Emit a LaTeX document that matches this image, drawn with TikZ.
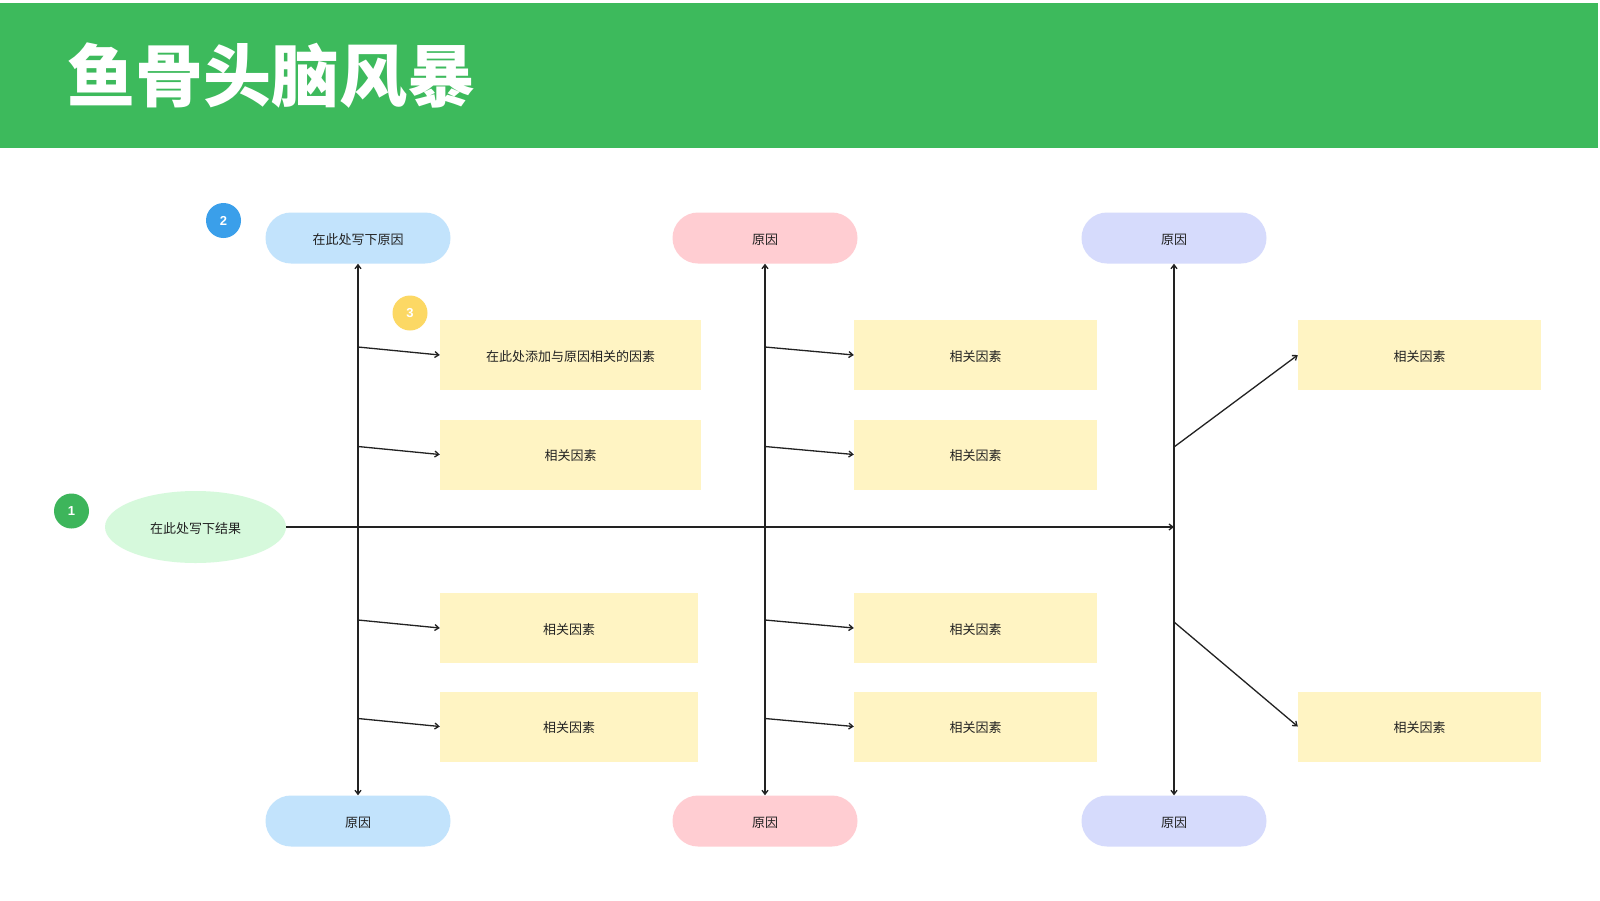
\documentclass[tikz,border=0pt]{standalone}
\usepackage{fontspec}
\setmainfont{Liberation Sans}
\newfontfamily\cjk{Noto Sans CJK SC}
\usetikzlibrary{arrows.meta,shapes.geometric}
\definecolor{hdrgreen}{HTML}{3DBA5C}
\definecolor{blueC}{HTML}{C2E3FC}
\definecolor{pinkC}{HTML}{FFCDD2}
\definecolor{lavC}{HTML}{D6DBFC}
\definecolor{yelBox}{HTML}{FFF4C3}
\definecolor{effC}{HTML}{D6F9DC}
\definecolor{badgeG}{HTML}{3DB55B}
\definecolor{badgeB}{HTML}{3A9FEA}
\definecolor{badgeY}{HTML}{FCD864}
\definecolor{txt}{HTML}{222222}
\begin{document}
\begin{tikzpicture}[x=1pt,y=-1pt,
  lbl/.style={font=\cjk\fontsize{13pt}{15pt}\selectfont, text=txt, text height=12.5pt, text depth=0pt},
  causebox/.style={lbl, rectangle, rounded corners=25.5pt, minimum width=185pt, minimum height=51pt, inner sep=0pt},
  factorbox/.style={lbl, rectangle, fill=yelBox, minimum height=70pt, inner sep=0pt},
  badge/.style={circle, minimum size=35pt, inner sep=0pt, text=white, font=\bfseries\fontsize{13pt}{15pt}\selectfont},
  arr/.style={draw=txt, line width=1.3pt, -{Straight Barb[length=4pt,width=6pt]}}
]
\useasboundingbox (0,0) rectangle (1600,900);
\fill[white] (0,0) rectangle (1600,900);
% header
\fill[hdrgreen] (0,3) rectangle (1598,148);
\node[anchor=west, text=white, font=\cjk\bfseries\fontsize{68pt}{70pt}\selectfont, inner sep=0pt] (title) at (67,76) {鱼骨头脑风暴};

% effect
\node[ellipse, fill=effC, minimum width=181pt, minimum height=72pt, inner sep=0pt, lbl] (effect) at (195.5,527) {在此处写下结果};

% cause capsules
\node[causebox, fill=blueC] (c1t) at (358,238) {在此处写下原因};
\node[causebox, fill=blueC] (c1b) at (358,821) {原因};
\node[causebox, fill=pinkC] (c2t) at (765,238) {原因};
\node[causebox, fill=pinkC] (c2b) at (765,821) {原因};
\node[causebox, fill=lavC] (c3t) at (1174,238) {原因};
\node[causebox, fill=lavC] (c3b) at (1174,821) {原因};

% factor boxes column 1
\node[factorbox, minimum width=261pt] (f1a) at (570.5,355) {在此处添加与原因相关的因素};
\node[factorbox, minimum width=261pt] (f1b) at (570.5,454.5) {相关因素};
\node[factorbox, minimum width=258pt] (f1c) at (569,628) {相关因素};
\node[factorbox, minimum width=258pt] (f1d) at (569,726.5) {相关因素};
% column 2
\node[factorbox, minimum width=243pt] (f2a) at (975.5,355) {相关因素};
\node[factorbox, minimum width=243pt] (f2b) at (975.5,454.5) {相关因素};
\node[factorbox, minimum width=243pt] (f2c) at (975.5,628) {相关因素};
\node[factorbox, minimum width=243pt] (f2d) at (975.5,726.5) {相关因素};
% column 3
\node[factorbox, minimum width=243pt] (f3a) at (1419.5,355) {相关因素};
\node[factorbox, minimum width=243pt] (f3b) at (1419.5,726.5) {相关因素};

% badges
\node[badge, fill=badgeG] (b1) at (71.5,511) {1};
\node[badge, fill=badgeB] (b2) at (223.5,220.5) {2};
\node[badge, fill=badgeY] (b3) at (410,313) {3};

% spine junctions
\coordinate (j1) at (358,527);
\coordinate (j2) at (765,527);
\coordinate (j3) at (1174,527);

% main spine
\draw[arr] (effect.east) -- (j3);
% vertical bones
\draw[arr] (j1) -- (c1t.south);
\draw[arr] (j1) -- (c1b.north);
\draw[arr] (j2) -- (c2t.south);
\draw[arr] (j2) -- (c2b.north);
\draw[arr] (j3) -- (c3t.south);
\draw[arr] (j3) -- (c3b.north);

% branch start points
\coordinate (s1a) at (358,347);
\coordinate (s1b) at (358,446.5);
\coordinate (s1c) at (358,620);
\coordinate (s1d) at (358,718.5);
\coordinate (s2a) at (765,347);
\coordinate (s2b) at (765,446.5);
\coordinate (s2c) at (765,620);
\coordinate (s2d) at (765,718.5);
\coordinate (s3a) at (1174,447);
\coordinate (s3b) at (1174,622);

\draw[arr] (s1a) -- (f1a.west);
\draw[arr] (s1b) -- (f1b.west);
\draw[arr] (s1c) -- (f1c.west);
\draw[arr] (s1d) -- (f1d.west);
\draw[arr] (s2a) -- (f2a.west);
\draw[arr] (s2b) -- (f2b.west);
\draw[arr] (s2c) -- (f2c.west);
\draw[arr] (s2d) -- (f2d.west);
\draw[arr] (s3a) -- (f3a.west);
\draw[arr] (s3b) -- (f3b.west);
\end{tikzpicture}
\end{document}
